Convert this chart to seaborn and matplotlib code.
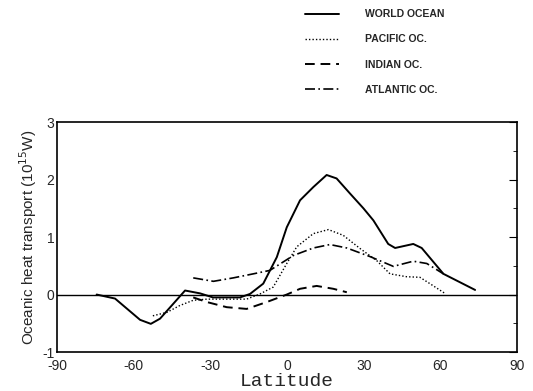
import numpy as np
import pandas as pd
import matplotlib.pyplot as plt
import seaborn as sns

# values
world_lat = [-74.5, -67.3, -57.5, -53.3, -49.7, -39.9, -34, -29, -18.4, -14.5, -9.3, -4.0,
             -0.1, 5.1, 10.3, 15.5, 19.4, 24.6, 29.9, 33.8, 39.6, 42.3, 49.4, 52.7, 61.2, 73.6]
world_val = [0.0, -0.07, -0.44, -0.51, -0.42, 0.07, 0.02, -0.05, -0.05, 0.01, 0.19, 0.65,
             1.17, 1.64, 1.87, 2.08, 2.02, 1.76, 1.50, 1.29, 0.88, 0.81, 0.88, 0.81, 0.36, 0.08]

pacific_lat = [-52.5, -47, -41.9, -36.7, -31.4, -26.2, -15.8, -10.6, -5.4, -0.1, 3.8, 10.3,
               16.2, 22.0, 28.6, 35.1, 40.3, 46.8, 52.0, 55.9, 61.8]
pacific_val = [-0.37, -0.31, -0.19, -0.10, -0.08, -0.08, -0.08, 0.01, 0.13, 0.54, 0.83, 1.06,
               1.13, 1.03, 0.80, 0.59, 0.36, 0.31, 0.30, 0.19, 0.02]

indian_lat = [-36.7, -31.4, -23.6, -15.8, -7.9, -0.1, 5.1, 11.6, 18.1, 23.4]
indian_val = [-0.05, -0.13, -0.22, -0.25, -0.13, 0.0, 0.10, 0.15, 0.10, 0.04]

atlantic_lat = [-36.7, -28.8, -21, -13.2, -6.7, 2.5, 10.3, 16.8, 23.4, 32.5, 41.6, 49.4, 54.7, 61.2]
atlantic_val = [0.29, 0.23, 0.29, 0.36, 0.42, 0.68, 0.81, 0.87, 0.81, 0.66, 0.49, 0.58, 0.54, 0.36]

sns.set_style('white')
plt.rcParams['axes.unicode_minus'] = False
plt.rcParams['font.family'] = ['Liberation Sans', 'DejaVu Sans']

fig = plt.figure(figsize=(5.33, 3.91), dpi=100)
ax = fig.add_axes([0.107, 0.0997, 0.863, 0.588])

ax.axhline(0, color='black', lw=1.0)

sns.lineplot(x=world_lat, y=world_val, ax=ax, color='black', lw=1.4, label='WORLD OCEAN')
sns.lineplot(x=pacific_lat, y=pacific_val, ax=ax, color='black', lw=1.0,
             linestyle=(0, (1, 1.5)), label='PACIFIC OC.')
sns.lineplot(x=indian_lat, y=indian_val, ax=ax, color='black', lw=1.4,
             linestyle=(0, (5, 3)), label='INDIAN OC.')
sns.lineplot(x=atlantic_lat, y=atlantic_val, ax=ax, color='black', lw=1.2,
             linestyle=(0, (6, 2, 1, 2)), label='ATLANTIC OC.')

ax.set_xlim(-90, 90)
ax.set_ylim(-1, 3)
ax.set_xticks(np.arange(-90, 91, 30))
ax.set_xticks(np.arange(-90, 91, 10), minor=True)
ax.set_yticks([-1, 0, 1, 2, 3])
ax.set_yticks(np.arange(-1, 3.01, 0.5), minor=True)
ax.tick_params(which='both', direction='in', top=False, right=True, labelsize=10, color='black')
ax.tick_params(which='major', length=6)
ax.tick_params(which='minor', length=3)
ax.tick_params(axis='x', pad=5)
ax.tick_params(axis='y', pad=2)
for s in ax.spines.values():
    s.set_color('black')
    s.set_linewidth(1.2)

ax.set_xlabel('Latitude', fontsize=14, family='Liberation Mono', labelpad=0)
ax.set_ylabel('Oceanic heat transport (10$^{15}$W)', fontsize=11, labelpad=2)

handles, labels = ax.get_legend_handles_labels()
ax.get_legend().remove()
leg = fig.legend(handles, labels, loc='upper left', bbox_to_anchor=(0.555, 1.0),
                 frameon=False, fontsize=7.5, handlelength=3.2, handletextpad=2.5,
                 labelspacing=1.45)
for t in leg.get_texts():
    t.set_fontweight('semibold')

fig.savefig('out.png', dpi=100)
